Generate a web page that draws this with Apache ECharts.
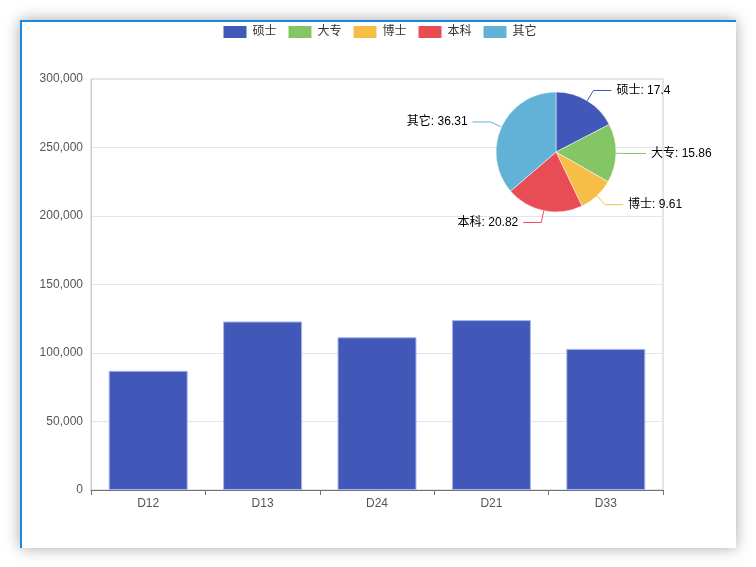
<!DOCTYPE html>
<html>
<head>
<meta charset="utf-8">
<script src="https://cdn.jsdelivr.net/npm/echarts@6/dist/echarts.min.js"></script>
<style>
  body { margin: 0; background: #fff; }
  .card {
    position: absolute; left: 20px; top: 20px; width: 714px; height: 526px;
    border-top: 2px solid #1a88de; border-left: 2px solid #1a88de;
    background: #fff; box-shadow: 0 0 14px rgba(0,0,0,0.35);
  }
  .bar-chart { width: 714px; height: 526px; }
</style>
</head>
<body>
<div class="card"><div class="bar-chart"></div></div>
<script>
var categories = ['D12', 'D13', 'D24', 'D21', 'D33'];
var barValues = [87000, 123000, 111500, 124000, 103000];
var pieNames = ['硕士', '大专', '博士', '本科', '其它'];
var pieValues = [17.4, 15.86, 9.61, 20.82, 36.31];
var colors = ['#4158b9', '#83c663', '#f6bd47', '#e84d55', '#62b2d7'];

var chart = echarts.init(document.querySelector('.bar-chart'));

var pieData = pieNames.map(function (n, i) {
  return { name: n, value: pieValues[i] };
});

var option = {
  color: colors,
  textStyle: { fontFamily: 'Liberation Sans, Noto Sans CJK SC, sans-serif' },
  legend: {
    top: -3,
    left: 'center',
    icon: 'rect',
    itemWidth: 25,
    itemHeight: 14,
    itemGap: 10,
    data: pieNames,
    textStyle: { color: '#333', fontSize: 12 }
  },
  grid: {
    left: 69,
    right: 73,
    top: 57,
    bottom: 58,
    show: true,
    borderColor: '#ccc'
  },
  xAxis: {
    type: 'category',
    data: categories,
    axisLine: { lineStyle: { color: '#6e7079' } },
    axisTick: { show: true },
    axisLabel: { color: '#555', fontSize: 12, margin: 8 }
  },
  yAxis: {
    type: 'value',
    min: 0,
    max: 300000,
    interval: 50000,
    axisLine: { show: true, lineStyle: { color: '#ccc' } },
    axisTick: { show: false },
    splitLine: { lineStyle: { color: '#e0e6f1' } },
    axisLabel: {
      color: '#555',
      fontSize: 12,
      formatter: function (v) { return v.toLocaleString('en-US'); }
    }
  },
  series: [
    {
      name: '人数',
      type: 'bar',
      barWidth: 79,
      itemStyle: { color: '#4158b9', borderColor: '#a9b6ea', borderWidth: 1 },
      data: barValues
    },
    {
      type: 'pie',
      center: [534, 130],
      radius: 60,
      startAngle: 90,
      clockwise: true,
      label: {
        formatter: '{b}: {c}',
        color: '#000',
        fontSize: 12
      },
      labelLine: { length: 12, length2: 18 },
      itemStyle: { borderColor: '#fff', borderWidth: 0.5 },
      data: pieData
    }
  ]
};

chart.setOption(option);
</script>
</body>
</html>
